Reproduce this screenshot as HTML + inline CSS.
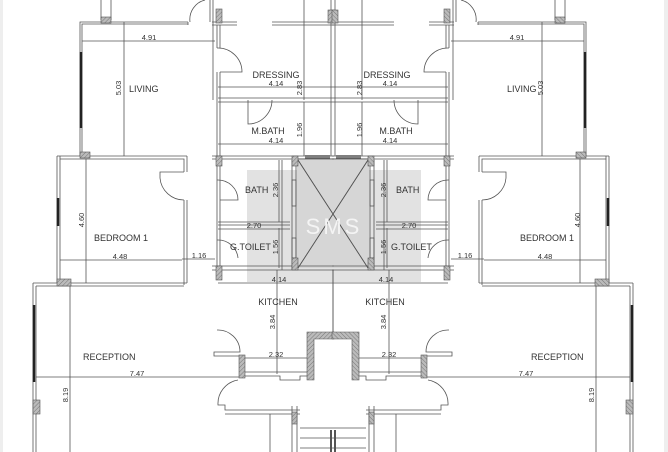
<!DOCTYPE html>
<html><head><meta charset="utf-8"><style>
html,body{margin:0;padding:0;background:#fff;width:668px;height:452px;overflow:hidden}
svg{display:block}
text{font-family:"Liberation Sans",sans-serif;fill:#333}
.l{font-size:9px}
.d{font-size:7.5px}
</style></head><body>
<svg width="668" height="452" viewBox="0 0 668 452" xmlns="http://www.w3.org/2000/svg">
<defs>
<pattern id="ht" width="3" height="3" patternUnits="userSpaceOnUse" patternTransform="rotate(45)">
<rect width="3" height="3" fill="#bbb"/><line x1="0" y1="0" x2="0" y2="3" stroke="#777" stroke-width="1"/></pattern>
</defs>
<rect x="0" y="0" width="3" height="452" fill="#eee"/>
<rect x="664" y="0" width="4" height="452" fill="#eee"/>
<rect x="247" y="170" width="174" height="112" fill="#e2e2e2"/>
<rect x="297" y="158" width="72" height="110" fill="#d6d6d6"/>
<g id="h" fill="none" stroke="#555" stroke-width="0.8">
<line x1="101" y1="0" x2="101" y2="20"/><line x1="111" y1="0" x2="111" y2="20"/>
<path d="M80 156 V22 H188 M82 156 V24 H188"/>
<path d="M190 22 A20 20 0 0 1 205 0"/>
<line x1="188" y1="22" x2="188" y2="25"/>
<path d="M210 0 V22 M213 0 V100"/>
<path d="M212 22 H237 M212 25 H237 M272 22 H334 M272 25 H334"/>
<path d="M217 25 V48 M217 72 V268 M220 25 V48 M220 72 V268"/>
<path d="M217 48 A24 24 0 0 1 242 72 H220"/>
<line x1="304" y1="0" x2="304" y2="100"/><line x1="331" y1="0" x2="331" y2="156"/>
<line x1="218" y1="87" x2="333" y2="87"/>
<path d="M218 98 H333 M218 102 H333"/>
<path d="M248 100 V124 A24 24 0 0 0 272 100"/>
<line x1="304" y1="102" x2="304" y2="156"/>
<line x1="218" y1="144" x2="333" y2="144"/>
<path d="M212 156 H334 M212 159 H334"/>
<path d="M305 156 H330 M305 158 H330" stroke-width="1.5"/>
<line x1="82" y1="41" x2="215" y2="41"/><line x1="124" y1="22" x2="124" y2="156"/>
<line x1="81" y1="52" x2="81" y2="128" stroke="#222" stroke-width="2.5"/>
<path d="M217 180 A20 20 0 0 1 238 200 H220" />
<line x1="279" y1="160" x2="279" y2="222"/>
<path d="M282 160 V270 M292 160 V270 M296 160 V270"/>
<rect x="292" y="180" width="4" height="26"/><rect x="292" y="238" width="4" height="20"/>
<path d="M218 222 H290 M218 225 H290"/>
<line x1="218" y1="229" x2="290" y2="229"/>
<line x1="279" y1="228" x2="279" y2="268"/>
<path d="M217 240 A20 20 0 0 1 238 258"/>
<line x1="182" y1="259" x2="215" y2="259"/>
<path d="M212 266 H334 M212 270 H334"/>
<path d="M298 160 L368 268 M368 160 L298 268"/>
<line x1="218" y1="283" x2="333" y2="283"/>
<line x1="277" y1="270" x2="277" y2="374"/>
<line x1="333" y1="270" x2="333" y2="333"/>
<path d="M217 330 A22 22 0 0 1 240 352 H214 V356 H240"/>
<line x1="245" y1="358" x2="307" y2="358"/>
<path d="M245 372 H307 M245 376 H280 V380 H300 V376 H307"/>
<path d="M57 156 V283 M60 156 V283"/>
<line x1="58" y1="198" x2="58" y2="226" stroke="#222" stroke-width="2.5"/>
<path d="M57 156 H187 M60 159 H184 V172 M187 156 V172 M184 200 V285 M187 200 V283"/>
<path d="M184 200 A24 24 0 0 1 160 178 V172 H184"/>
<line x1="86" y1="159" x2="86" y2="283"/>
<line x1="60" y1="260" x2="182" y2="260"/>
<path d="M33 283 H187 M36 286 H184"/>
<path d="M33 283 V452 M36 286 V452"/>
<line x1="34" y1="305" x2="34" y2="382" stroke="#222" stroke-width="2.5"/>
<line x1="70" y1="286" x2="70" y2="452"/>
<line x1="36" y1="377" x2="240" y2="377"/>
<path d="M238 380 A24 24 0 0 0 218 405 H225 V410 H300 M225 414 H300"/>
<line x1="270" y1="414" x2="270" y2="452"/>
<path d="M292 406 V452 M297 406 V452"/>
<path d="M300 428 H333 M300 438 H333 M300 448 H333"/>
<line x1="331" y1="430" x2="331" y2="452" stroke-width="2"/>
<g fill="url(#ht)" stroke="#555" stroke-width="0.6">
<rect x="101" y="17" width="10" height="6"/>
<rect x="216" y="9" width="6" height="14"/>
<rect x="328" y="10" width="6" height="13"/>
<rect x="80" y="152" width="10" height="6"/>
<rect x="216" y="156" width="6" height="10"/>
<rect x="292" y="156" width="6" height="10"/>
<rect x="292" y="258" width="6" height="12"/>
<rect x="216" y="266" width="6" height="14"/>
<rect x="57" y="279" width="14" height="7"/>
<rect x="33" y="400" width="7" height="14"/>
<rect x="239" y="355" width="6" height="23"/>
<path d="M307 380 V332 H334 V339 H314 V380 Z"/>
<rect x="292" y="412" width="5" height="12"/>
</g>
</g>
<use href="#h" transform="translate(666,0) scale(-1,1)"/>
<text class="d" x="149" y="40" text-anchor="middle">4.91</text>
<text class="d" transform="translate(121,88) rotate(-90)" text-anchor="middle">5.03</text>
<text class="l" x="129" y="92">LIVING</text>
<text class="l" x="276" y="78" text-anchor="middle">DRESSING</text>
<text class="d" x="276" y="86" text-anchor="middle">4.14</text>
<text class="d" transform="translate(302,88) rotate(-90)" text-anchor="middle">2.83</text>
<text class="l" x="268" y="134" text-anchor="middle">M.BATH</text>
<text class="d" x="276" y="143" text-anchor="middle">4.14</text>
<text class="d" transform="translate(302,130) rotate(-90)" text-anchor="middle">1.96</text>
<text class="l" x="245" y="193">BATH</text>
<text class="d" transform="translate(278,190) rotate(-90)" text-anchor="middle">2.36</text>
<text class="d" x="254" y="228" text-anchor="middle">2.70</text>
<text class="l" x="230" y="250">G.TOILET</text>
<text class="d" transform="translate(278,247) rotate(-90)" text-anchor="middle">1.56</text>
<text class="d" x="199" y="258" text-anchor="middle">1.16</text>
<text class="l" x="94" y="241">BEDROOM 1</text>
<text class="d" x="120" y="259" text-anchor="middle">4.48</text>
<text class="d" transform="translate(84,220) rotate(-90)" text-anchor="middle">4.60</text>
<text class="d" x="279" y="282" text-anchor="middle">4.14</text>
<text class="l" x="278" y="305" text-anchor="middle">KITCHEN</text>
<text class="d" transform="translate(275,322) rotate(-90)" text-anchor="middle">3.84</text>
<text class="d" x="276" y="357" text-anchor="middle">2.32</text>
<text class="l" x="83" y="360">RECEPTION</text>
<text class="d" x="137" y="376" text-anchor="middle">7.47</text>
<text class="d" transform="translate(68,395) rotate(-90)" text-anchor="middle">8.19</text>
<text class="d" x="517" y="40" text-anchor="middle">4.91</text>
<text class="d" transform="translate(543,88) rotate(-90)" text-anchor="middle">5.03</text>
<text class="l" x="507" y="92">LIVING</text>
<text class="l" x="387" y="78" text-anchor="middle">DRESSING</text>
<text class="d" x="390" y="86" text-anchor="middle">4.14</text>
<text class="d" transform="translate(362,88) rotate(-90)" text-anchor="middle">2.83</text>
<text class="l" x="396" y="134" text-anchor="middle">M.BATH</text>
<text class="d" x="390" y="143" text-anchor="middle">4.14</text>
<text class="d" transform="translate(362,130) rotate(-90)" text-anchor="middle">1.96</text>
<text class="l" x="396" y="193">BATH</text>
<text class="d" transform="translate(386,190) rotate(-90)" text-anchor="middle">2.36</text>
<text class="d" x="409" y="228" text-anchor="middle">2.70</text>
<text class="l" x="391" y="250">G.TOILET</text>
<text class="d" transform="translate(386,247) rotate(-90)" text-anchor="middle">1.56</text>
<text class="d" x="465" y="258" text-anchor="middle">1.16</text>
<text class="l" x="520" y="241">BEDROOM 1</text>
<text class="d" x="545" y="259" text-anchor="middle">4.48</text>
<text class="d" transform="translate(580,220) rotate(-90)" text-anchor="middle">4.60</text>
<text class="d" x="386" y="282" text-anchor="middle">4.14</text>
<text class="l" x="385" y="305" text-anchor="middle">KITCHEN</text>
<text class="d" transform="translate(386,322) rotate(-90)" text-anchor="middle">3.84</text>
<text class="d" x="389" y="357" text-anchor="middle">2.32</text>
<text class="l" x="531" y="360">RECEPTION</text>
<text class="d" x="526" y="376" text-anchor="middle">7.47</text>
<text class="d" transform="translate(594,395) rotate(-90)" text-anchor="middle">8.19</text>
<text x="334" y="234" text-anchor="middle" style="font-size:22px;fill:#f4f4f4;letter-spacing:3px">SMS</text>
</svg>
</body></html>
